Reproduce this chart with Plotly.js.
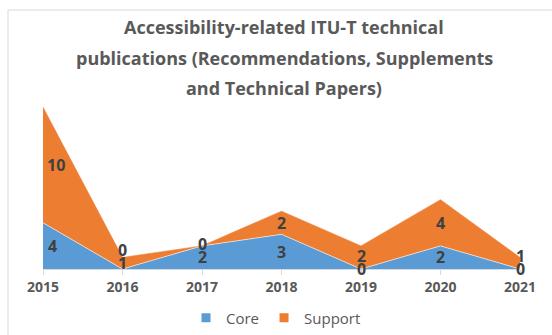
<!DOCTYPE html>
<html>
<head>
<meta charset="utf-8">
<script src="https://cdn.plot.ly/plotly-3.0.1.min.js"></script>
<style>
  html, body { margin: 0; padding: 0; background: #fff; }
  #chart { width: 552px; height: 335px; }
</style>
</head>
<body>
<div id="chart"></div>
<script>
var years = ['2015', '2016', '2017', '2018', '2019', '2020', '2021'];
var core = [4, 0, 2, 3, 0, 2, 0];
var support = [10, 1, 0, 2, 2, 4, 1];
// data labels as printed on the original chart
var coreLabels = [4, 1, 2, 3, 0, 2, 0];
var supportLabels = [10, 0, 0, 2, 2, 4, 1];

var titleLines = [
    'Accessibility-related ITU-T technical',
    'publications (Recommendations, Supplements',
    'and Technical Papers)'
];

// plot area in pixels
var L = 43, R = 32, T = 84, B = 66;
var W = 552, H = 335;
var pw = W - L - R, ph = H - T - B;
var yMax = 16;
function px(x) { return (x - L) / pw; }
function py(y) { return (H - B - y) / ph; }

var txtColor = '#595959';
var lblColor = '#404040';
var blue = '#5B9BD5', orange = '#ED7D31';

var traceCore = {
    x: years,
    y: core,
    name: 'Core',
    type: 'scatter',
    mode: 'lines',
    stackgroup: 'one',
    fillcolor: blue,
    line: { color: '#ffffff', width: 0.6 },
    showlegend: false,
    hoverinfo: 'skip'
};
var traceSupport = {
    x: years,
    y: support,
    name: 'Support',
    type: 'scatter',
    mode: 'lines',
    stackgroup: 'one',
    fillcolor: orange,
    line: { color: orange, width: 0.6 },
    showlegend: false,
    hoverinfo: 'skip'
};
// legend entries with square keys
var legCore = { x: [null], y: [null], type: 'scatter', mode: 'markers', name: 'Core',
    marker: { symbol: 'square', size: 9, color: blue } };
var legSupport = { x: [null], y: [null], type: 'scatter', mode: 'markers', name: 'Support',
    marker: { symbol: 'square', size: 9, color: orange } };

var annotations = [];
var lblFont = { family: 'Open Sans', size: 16, color: lblColor, weight: 'bold' };
var unitPx = ph / yMax;
for (var i = 0; i < years.length; i++) {
    var shift = 0;
    if (i == 0) shift = 9;
    var yc = coreLabels[i] / 2;
    var ys = coreLabels[i] + supportLabels[i] / 2;
    var gap = (ys - yc) * unitPx;
    var push = gap < 13 ? 13 - gap : 0;
    annotations.push({
        x: i, y: yc, xref: 'x', yref: 'y',
        text: String(coreLabels[i]), showarrow: false, xshift: shift,
        font: lblFont
    });
    annotations.push({
        x: i, y: ys, xref: 'x', yref: 'y',
        text: String(supportLabels[i]), showarrow: false,
        xshift: shift ? shift + 4 : 0, yshift: push,
        font: lblFont
    });
}
var titleY = [27, 58, 88];
for (var j = 0; j < titleLines.length; j++) {
    annotations.push({
        x: px(284), y: py(titleY[j]), xref: 'paper', yref: 'paper',
        xanchor: 'center', yanchor: 'middle',
        text: titleLines[j], showarrow: false,
        font: { family: 'Open Sans', size: 18, color: txtColor, weight: 'bold' }
    });
}

var layout = {
    width: W,
    height: H,
    margin: { l: L, r: R, t: T, b: B, autoexpand: false },
    paper_bgcolor: '#ffffff',
    plot_bgcolor: '#ffffff',
    showlegend: true,
    legend: {
        orientation: 'h',
        traceorder: 'normal',
        x: px(276), xanchor: 'center',
        y: py(318), yanchor: 'middle',
        itemwidth: 30,
        font: { family: 'Open Sans', size: 15, color: txtColor }
    },
    xaxis: {
        type: 'category',
        range: [0, 6],
        showgrid: false,
        zeroline: false,
        showline: true,
        linecolor: '#D9D9D9',
        linewidth: 1,
        ticks: 'outside',
        ticklen: 5,
        tickcolor: '#D9D9D9',
        tickfont: { family: 'Open Sans', size: 14, color: txtColor, weight: 'bold' }
    },
    yaxis: {
        range: [0, yMax],
        showgrid: false,
        zeroline: false,
        showticklabels: false,
        showline: false
    },
    annotations: annotations,
    shapes: [{
        type: 'rect', xref: 'paper', yref: 'paper',
        x0: px(8), x1: px(600), y0: py(400), y1: py(10),
        line: { color: '#D9D9D9', width: 1 },
        layer: 'below'
    }]
};

Plotly.newPlot('chart', [traceCore, traceSupport, legCore, legSupport], layout, { displayModeBar: false, staticPlot: true });
</script>
</body>
</html>
